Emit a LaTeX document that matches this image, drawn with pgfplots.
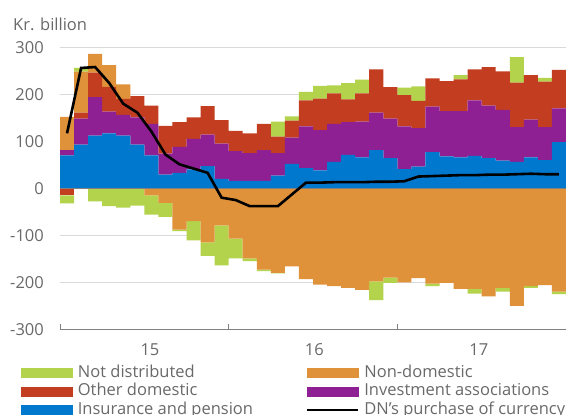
\documentclass[border=0pt]{standalone}
\usepackage{pgfplots}
\pgfplotsset{compat=1.18}
\usepackage{pgfplotstable}
\usepackage{fontspec}
\setmainfont{Open Sans}
\definecolor{cgreen}{RGB}{178,211,75}
\definecolor{corange}{RGB}{223,146,57}
\definecolor{cred}{RGB}{195,61,33}
\definecolor{cpurple}{RGB}{142,32,148}
\definecolor{cblue}{RGB}{0,120,206}
\definecolor{textgray}{RGB}{105,105,105}
\definecolor{axgray}{RGB}{128,128,128}
\definecolor{gridgray}{RGB}{217,217,217}
\newcommand{\chfont}{\fontsize{16.5bp}{19bp}\selectfont}

% positive parts: insurance, investment, other domestic, non-domestic, not distributed
\pgfplotstableread{
x B P R O G
0 70 11 0 71 0
1 93 55 13 87 8
2 112 82 52 40 0
3 117 46 53 46 0
4 112 44 34 31 0
5 93 58 45 0 0
6 70 67 39 0 0
7 29 45 59 0 0
8 33 55 53 0 0
9 40 65 46 0 0
10 47 67 61 0 0
11 20 75 50 0 0
12 16 63 43 0 0
13 16 59 42 0 0
14 16 65 56 0 0
15 27 48 35 0 32
16 52 56 36 0 9
17 43 89 55 0 18
18 38 86 67 0 27
19 56 81 65 0 17
20 71 70 48 0 35
21 66 76 60 0 29
22 81 80 92 0 0
23 64 84 67 0 0
24 41 91 66 0 16
25 46 82 58 0 31
26 77 97 60 0 0
27 68 96 64 0 0
28 66 98 68 0 9
29 69 118 66 0 0
30 64 112 82 0 0
31 59 108 82 0 0
32 56 74 95 0 54
33 66 80 95 0 0
34 60 70 97 0 8
35 98 72 82 0 0
}\postab

% negative parts: other domestic, non-domestic, not distributed
\pgfplotstableread{
x R O G
0 -15 0 -17
1 0 0 0
2 0 0 -28
3 0 0 -38
4 0 0 -41
5 0 0 -37
6 0 -15 -41
7 0 -31 -30
8 0 -88 -3
9 0 -70 -41
10 0 -115 -29
11 0 -79 -85
12 0 -107 -42
13 0 -149 -6
14 0 -173 -3
15 0 -180 -1
16 0 -166 0
17 0 -193 0
18 0 -205 0
19 0 -208 0
20 0 -212 0
21 0 -216 0
22 0 -198 -40
23 0 -190 -11
24 0 -200 0
25 0 -191 0
26 0 -203 -5
27 0 -201 0
28 0 -214 0
29 0 -214 -10
30 0 -230 0
31 0 -212 -8
32 0 -250 0
33 0 -208 -4
34 0 -206 0
35 0 -220 -5
}\negtab

% DN's purchase of currency
\pgfplotstableread{
x y
0 117
1 256
2 258
3 224
4 180
5 161
6 121
7 72
8 51
9 42
10 33
11 -20
12 -25
13 -38
14 -38
15 -38
16 -13
17 12
18 12
19 13
20 13
21 13
22 14
23 14
24 15
25 25
26 26
27 27
28 28
29 28
30 29
31 29
32 30
33 31
34 30
35 30
}\dntab

\begin{document}
\begin{tikzpicture}
\useasboundingbox (0,0) rectangle (566bp,415bp);
\pgfplotsset{base/.style={width=506bp,height=282bp,scale only axis,
  xmin=-0.5,xmax=35.5,ymin=-300,ymax=300,
  at={(60bp,85.7bp)},anchor=south west}}

\begin{axis}[base,
  ybar stacked, bar width=1, bar shift=0pt,
  axis x line*=bottom, axis y line*=left,
  y axis line style={draw=none},
  x axis line style={axgray,line width=1bp},
  ytick={-300,-200,...,300},
  ytick style={draw=none},
  ymajorgrids, grid style={gridgray,line width=1bp},
  xtick={5.9,17.6,29.3}, xticklabels={15,16,17},
  major x tick style={draw=none},
  minor xtick={-0.5,11.5,23.5},
  minor x tick style={axgray,line width=1bp},
  minor tick length=5bp, tick align=inside,
  /pgf/number format/assume math mode=true,
  tick label style={font=\chfont, text=textgray},
  yticklabel style={anchor=east,inner sep=0pt,xshift=-16bp},
  xticklabel style={anchor=center,inner sep=0pt,yshift=-20.7bp},
]
\addplot[fill=cblue,draw=none] table[x=x,y=B]{\postab};
\addplot[fill=cpurple,draw=none] table[x=x,y=P]{\postab};
\addplot[fill=cred,draw=none] table[x=x,y=R]{\postab};
\addplot[fill=corange,draw=none] table[x=x,y=O]{\postab};
\addplot[fill=cgreen,draw=none] table[x=x,y=G]{\postab};
\end{axis}

\begin{axis}[base, hide axis, ybar stacked, bar width=1, bar shift=0pt]
\addplot[fill=cred,draw=none] table[x=x,y=R]{\negtab};
\addplot[fill=corange,draw=none] table[x=x,y=O]{\negtab};
\addplot[fill=cgreen,draw=none] table[x=x,y=G]{\negtab};
\end{axis}

\begin{axis}[base, hide axis,
  legend columns=2,
  legend cell align=left,
  legend style={at={(-0.0771,-0.1266)},anchor=north west,
    draw=none,fill=none,inner sep=0pt,outer sep=0pt,
    font=\chfont, text=textgray, row sep=2.5bp,
    nodes={inner sep=0pt, text height=12bp, text depth=4bp},
    /tikz/every odd column/.append style={column sep=5.5bp},
  },
]
\addlegendimage{legend image code/.code={\fill[cgreen] (0bp,-4.5bp) rectangle (51bp,4.5bp);}}
\addlegendentry{\makebox[228bp][l]{Not distributed}}
\addlegendimage{legend image code/.code={\fill[corange] (0bp,-4.5bp) rectangle (51bp,4.5bp);}}
\addlegendentry{Non-domestic}
\addlegendimage{legend image code/.code={\fill[cred] (0bp,-4.5bp) rectangle (51bp,4.5bp);}}
\addlegendentry{Other domestic}
\addlegendimage{legend image code/.code={\fill[cpurple] (0bp,-4.5bp) rectangle (51bp,4.5bp);}}
\addlegendentry{Investment associations}
\addlegendimage{legend image code/.code={\fill[cblue] (0bp,-4.5bp) rectangle (51bp,4.5bp);}}
\addlegendentry{Insurance and pension}
\addlegendimage{legend image code/.code={\draw[black,line width=2bp] (0bp,0bp) -- (51bp,0bp);}}
\addlegendentry{DN's purchase of currency}
\draw[axgray,line width=1bp] (axis cs:-0.5,0) -- (axis cs:35.5,0);
\addplot[black,line width=2.6bp,sharp plot,mark=none,forget plot] table[x=x,y=y]{\dntab};
\end{axis}

\node[anchor=base west,text=textgray,font=\chfont,inner sep=0pt] at (13bp,384.3bp) {Kr. billion};
\end{tikzpicture}
\end{document}
